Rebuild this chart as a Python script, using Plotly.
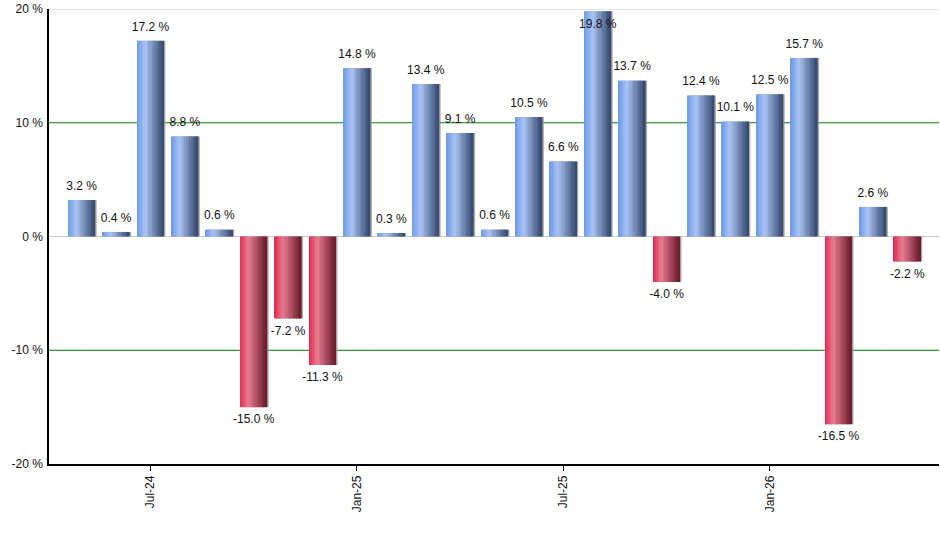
import plotly.graph_objects as go

# monthly returns, May-24 .. May-26
months = ["May-24", "Jun-24", "Jul-24", "Aug-24", "Sep-24", "Oct-24", "Nov-24", "Dec-24",
          "Jan-25", "Feb-25", "Mar-25", "Apr-25", "May-25", "Jun-25", "Jul-25", "Aug-25",
          "Sep-25", "Oct-25", "Nov-25", "Dec-25", "Jan-26", "Feb-26", "Mar-26", "Apr-26", "May-26"]
returns = [3.2, 0.4, 17.2, 8.8, 0.6, -15.0, -7.2, -11.3, 14.8, 0.3, 13.4, 9.1, 0.6,
           10.5, 6.6, 19.8, 13.7, -4.0, 12.4, 10.1, 12.5, 15.7, -16.5, 2.6, -2.2]
tick_labels = ["Jul-24", "Jan-25", "Jul-25", "Jan-26"]
y_ticks = [-20, -10, 0, 10, 20]
grid_levels = [20, 10, 0, -10]

x = list(range(len(months)))
tick_pos = [months.index(t) for t in tick_labels]

# gradient stops (position, rgb) across the bar width
blue_stops = [(0.0, (108, 152, 230)), (0.32, (170, 196, 244)), (1.0, (50, 70, 108))]
red_stops = [(0.0, (224, 38, 78)), (0.32, (232, 124, 144)), (1.0, (104, 24, 42))]


def grad(stops, t):
    for (p0, c0), (p1, c1) in zip(stops, stops[1:]):
        if p0 <= t <= p1:
            f = (t - p0) / (p1 - p0)
            return "rgb(%d,%d,%d)" % tuple(round(a + (b - a) * f) for a, b in zip(c0, c1))
    return "rgb(%d,%d,%d)" % stops[-1][1]


bar_w = 0.78
n_slices = 16
slice_w = bar_w / n_slices

fig = go.Figure()

# thin shadow on the right edge
fig.add_trace(go.Bar(x=x, y=returns, width=bar_w, offset=-bar_w / 2 + 0.045,
                     marker=dict(color="rgba(150,150,150,0.8)", line_width=0),
                     hoverinfo="skip", showlegend=False))

for i in range(n_slices):
    t = (i + 0.5) / n_slices
    cols = [grad(blue_stops, t) if v >= 0 else grad(red_stops, t) for v in returns]
    fig.add_trace(go.Bar(x=x, y=returns, width=slice_w + 0.004,
                         offset=-bar_w / 2 + i * slice_w,
                         marker=dict(color=cols, line_width=0),
                         hoverinfo="skip", showlegend=False))


def label_pos(v):
    if v >= 0:
        return "bottom center" if v > 18.5 else "top center"
    return "bottom center"


# value labels
fig.add_trace(go.Scatter(x=x, y=returns, mode="markers+text",
                         marker=dict(size=10, opacity=0),
                         text=["%.1f %%" % v for v in returns],
                         textposition=[label_pos(v) for v in returns],
                         textfont=dict(family="Liberation Sans, Arial", size=12, color="#111"),
                         cliponaxis=False, showlegend=False, hoverinfo="skip"))

for g in grid_levels:
    fig.add_hline(y=g, line_width=1, layer="below",
                  line_color="green" if g in (10, -10) else "#c8c8c8")

fig.update_layout(
    width=940, height=550,
    margin=dict(l=49, r=1, t=9, b=86),
    paper_bgcolor="white", plot_bgcolor="white",
    barmode="overlay",
    font=dict(family="Liberation Sans, Arial", size=12, color="#111"),
)
fig.update_xaxes(range=[-0.95, len(months) - 0.08], tickvals=tick_pos, ticktext=tick_labels,
                 tickangle=-90, ticks="outside", ticklen=5, tickcolor="black",
                 showline=True, linecolor="black", linewidth=1.5, showgrid=False,
                 zeroline=False, automargin=False)
fig.update_yaxes(range=[-20, 20], tickvals=y_ticks, ticktext=["%d %%" % v for v in y_ticks],
                 showline=True, linecolor="black", linewidth=1.5, showgrid=False,
                 zeroline=False, ticks="", ticklabelstandoff=2, automargin=False)

# drop the browser's default 8px body margin so the figure sits at the corner
fig.write_html("out.html", config={"displayModeBar": False},
               post_script="document.body.style.margin='0';document.body.style.overflow='hidden';")
